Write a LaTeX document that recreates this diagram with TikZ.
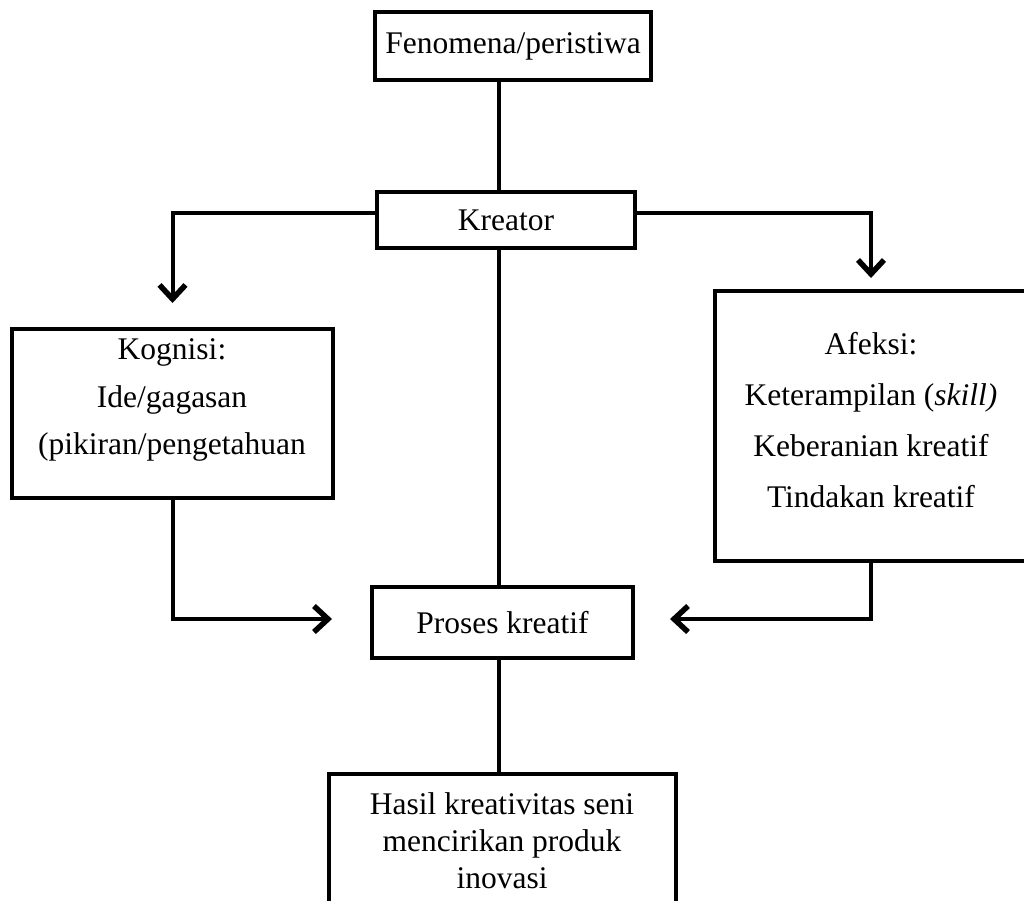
\documentclass[tikz,border=0pt]{standalone}
\usepackage{fontspec}
\setmainfont{Liberation Serif}
\usetikzlibrary{arrows.meta}
\begin{document}
\begin{tikzpicture}[x=1pt,y=-1pt,
  box/.style={draw=black, line width=4pt, inner sep=0pt, fill=white, font=\fontsize{31.5}{36}\selectfont},
  txt/.style={inner sep=0pt, align=center},
  conn/.style={line width=4pt},
  arr/.style={line width=4pt, -{Straight Barb[length=14pt,width=26pt,line width=5.5pt]}}]
\useasboundingbox (0,0) rectangle (1024,900);
\clip (0,0) rectangle (1024,900);
\coordinate (vx) at (499,0);
\coordinate (ky) at (0,213);
\coordinate (ly) at (0,619);
% boxes
\node[box, minimum width=276pt, minimum height=68pt] (fen) at (513,46) {Fenomena/peristiwa};
\node[box, minimum width=258pt, minimum height=56pt] (kre) at (506,220) {Kreator};
\node[box, minimum width=321pt, minimum height=169pt] (kog) at (172.5,413.5) {};
\node[box, minimum width=312pt, minimum height=270pt] (afe) at (871,426) {};
\node[box, minimum width=261pt, minimum height=71pt] (pro) at (502.5,622.5) {Proses kreatif};
\node[box, minimum width=347pt, minimum height=144pt] (has) at (502.5,846) {};
% texts
\node[txt, font=\fontsize{31.5}{47.5}\selectfont] (kogT) at (172,400) {Kognisi:\\Ide/gagasan\\(pikiran/pengetahuan};
\node[txt, font=\fontsize{31.5}{51}\selectfont] (afeT) at (871,420) {Afeksi:\\Keterampilan (\textit{skill)}\\Keberanian kreatif\\Tindakan kreatif};
\node[txt, font=\fontsize{31.5}{37}\selectfont] (hasT) at (502,841) {Hasil kreativitas seni\\mencirikan produk\\inovasi};
% connectors
\draw[conn] (fen.south -| vx) -- (kre.north -| vx);
\draw[conn] (kre.south -| vx) -- (pro.north -| vx);
\draw[conn] (pro.south -| vx) -- (has.north -| vx);
\draw[arr, shorten >=24pt] (kre.west |- ky) -| (kog.north);
\draw[arr, shorten >=11pt] (kre.east |- ky) -| (afe.north);
\draw[arr, shorten >=38pt] (kog.south) |- (pro.west |- ly);
\draw[arr, shorten >=35pt] (afe.south) |- (pro.east |- ly);
\end{tikzpicture}
\end{document}
